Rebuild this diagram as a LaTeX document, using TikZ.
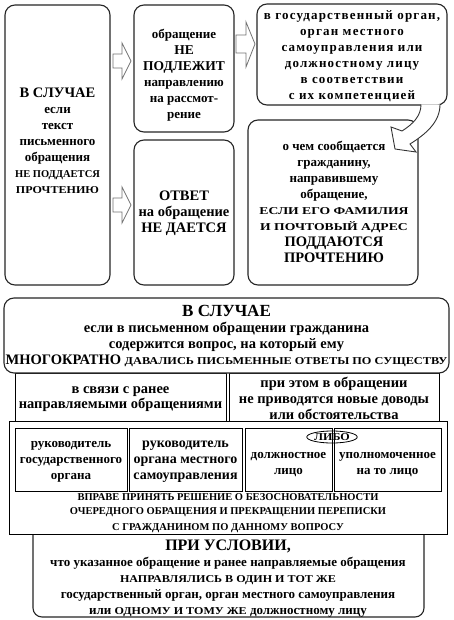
\documentclass[tikz,border=0pt]{standalone}
\usepackage{fontspec}
\setmainfont{Liberation Serif}
\newfontfamily\wideserif[LetterSpace=9]{Liberation Serif}
\newfontfamily\stA[FakeStretch=1.15]{Liberation Serif}
\newfontfamily\stB[FakeStretch=1.3]{Liberation Serif}
\newfontfamily\stC[FakeStretch=1.17]{Liberation Serif}
\usetikzlibrary{shapes.geometric}
\newcommand\nt{\fontsize{13}{16}\selectfont}
\newcommand\ntL{\fontsize{14.5}{16}\selectfont}
\newcommand\bg{\fontsize{14.5}{16}\selectfont}
\newcommand\sm{\fontsize{10.5}{16}\selectfont}
\newcommand\smA{\stA\fontsize{10.5}{16}\selectfont}
\newcommand\smB{\stB\fontsize{10.5}{16}\selectfont}
\tikzset{
  rbox/.style={draw=black!85, line width=1.1pt, rounded corners=10pt, fill=white, inner sep=0pt},
  pbox/.style={draw=black, line width=0.8pt, fill=white, inner sep=0pt},
  txt/.style={inner sep=0pt, align=center, font=\bfseries\nt},
  barrow/.style={draw=black!55, line width=0.8pt, fill=white, line join=miter},
}
\begin{document}
\begin{tikzpicture}[x=1pt,y=-1pt]
\useasboundingbox[fill=white] (0,0) rectangle (453,620);
% top section
\node[rbox, minimum width=105pt, minimum height=280pt] (b1) at (57.5,145) {};
\node[txt] (b1t) at (57.5,141)
 {{\bg В СЛУЧАЕ}\\если\\текст\\письменного\\обращения\\{\sm НЕ ПОДДАЕТСЯ}\\{\smA ПРОЧТЕНИЮ}};
\node[rbox, minimum width=100pt, minimum height=127pt] (b2) at (184,68.5) {};
\node[txt] (b2t) at (184,75)
 {обращение\\{\fontsize{13.5}{16}\selectfont НЕ}\\{\fontsize{13.5}{16}\selectfont ПОДЛЕЖИТ}\\направлению\\на рассмот-\\рение};
\node[rbox, minimum width=100pt, minimum height=145pt] (b3) at (184,212.5) {};
\node[txt] (b3t) at (184,213)
 {{\bg ОТВЕТ}\\{\ntL на обращение}\\{\bg НЕ ДАЕТСЯ}};
\node[rbox, minimum width=190pt, minimum height=101pt] (b4) at (352,54.5) {};
\node[txt, font=\bfseries\wideserif\nt] (b4t) at (352,56)
 {в государственный орган,\\орган местного\\самоуправления или\\должностному лицу\\в соответствии\\с их компетенцией};
\node[rbox, minimum width=170pt, minimum height=165pt] (b5) at (333,202.5) {};
\node[txt] (b5t) at (334,202)
 {о чем сообщается\\гражданину,\\направившему\\обращение,\\{\smB ЕСЛИ ЕГО ФАМИЛИЯ}\\{\smB И ПОЧТОВЫЙ АДРЕС}\\{\bg ПОДДАЮТСЯ}\\{\bg ПРОЧТЕНИЮ}};
% block arrows
\draw[barrow] (113,54) -- (122,54) -- (122,43) -- (131,61) -- (122,79) -- (122,68) -- (113,68) -- cycle;
\draw[barrow] (113,198) -- (122,198) -- (122,187) -- (131,205) -- (122,223) -- (122,212) -- (113,212) -- cycle;
\draw[barrow] (236,35) -- (246,35) -- (246,22) -- (255,44) -- (246,67) -- (246,53) -- (236,53) -- cycle;
% curved arrow from b4 to b5
\coordinate (ca1) at (421,104.5);
\coordinate (ca2) at (440,104.5);
\fill[white] (ca1) .. controls (421,116) and (413,124) .. (402,131) -- (391,127) -- (395,149) -- (416,152) -- (410,144) .. controls (426,134) and (440,122) .. (ca2) -- cycle;
\draw[draw=black!80, line width=0.9pt, line join=miter] (ca1) .. controls (421,116) and (413,124) .. (402,131) -- (391,127) -- (395,149) -- (416,152) -- (410,144) .. controls (426,134) and (440,122) .. (ca2);
% bottom section
\draw[draw=black!85, line width=1.1pt, rounded corners=9pt, fill=white] (33,505) rectangle (424,617);
\node[txt] (cond) at (228,579)
 {{\fontsize{16}{16}\selectfont ПРИ УСЛОВИИ,}\\что указанное обращение и ранее направляемые обращения\\{\stA\fontsize{10.5}{16}\selectfont НАПРАВЛЯЛИСЬ В ОДИН И ТОТ ЖЕ}\\государственный орган, орган местного самоуправления\\или {\smA ОДНОМУ И ТОМУ ЖЕ} должностному лицу};
\node[pbox, minimum width=438pt, minimum height=113pt] (big) at (228,477.5) {};
\node[pbox, minimum width=112pt, minimum height=63pt] (ia) at (71,459.5) {};
\node[pbox, minimum width=113pt, minimum height=63pt] (ib) at (185.5,459.5) {};
\node[pbox, minimum width=87pt, minimum height=63pt] (ic) at (288.5,459.5) {};
\node[pbox, minimum width=107pt, minimum height=63pt] (id) at (387.5,459.5) {};
\node[txt] (iat) at (71,461.5) {руководитель\\государственного\\органа};
\node[txt, font=\bfseries\fontsize{14}{16}\selectfont] (ibt) at (185.5,461.5) {руководитель\\органа местного\\самоуправления};
\node[txt] (ict) at (288.5,465) {должностное\\лицо};
\node[txt] (idt) at (387.5,465) {уполномоченное\\на то лицо};
\node[ellipse, draw=black, line width=0.8pt, inner sep=0pt, minimum width=48pt, minimum height=12pt, font=\bfseries\stA\fontsize{10.5}{11}\selectfont] (libo) at (332,437) {ЛИБО};
\node[txt, font=\bfseries\sm] (vprave) at (228,513)
 {ВПРАВЕ ПРИНЯТЬ РЕШЕНИЕ О БЕЗОСНОВАТЕЛЬНОСТИ\\[-2pt]ОЧЕРЕДНОГО ОБРАЩЕНИЯ И ПРЕКРАЩЕНИИ ПЕРЕПИСКИ\\С ГРАЖДАНИНОМ ПО ДАННОМУ ВОПРОСУ};
% middle section
\node[pbox, minimum width=211pt, minimum height=48pt] (s1) at (120.5,397) {};
\node[pbox, minimum width=210pt, minimum height=48pt] (s2) at (334,397) {};
\node[txt, font=\bfseries\ntL] (s1t) at (120.5,399.5) {в связи с ранее\\[-1pt]направляемыми обращениями};
\node[txt, font=\bfseries\ntL] (s2t) at (334,398) {при этом в обращении\\не приводятся новые доводы\\или обстоятельства};
\node[rbox, minimum width=445pt, minimum height=75pt] (m1) at (226.5,335.5) {};
\node[txt, font=\bfseries\ntL] (m1t) at (226.5,335.5)
 {{\fontsize{17}{16}\selectfont В СЛУЧАЕ}\\если в письменном обращении гражданина\\содержится вопрос, на который ему\\{\bg МНОГОКРАТНО} {\stC\fontsize{10.5}{16}\selectfont ДАВАЛИСЬ ПИСЬМЕННЫЕ ОТВЕТЫ ПО СУЩЕСТВУ}};
\end{tikzpicture}
\end{document}
